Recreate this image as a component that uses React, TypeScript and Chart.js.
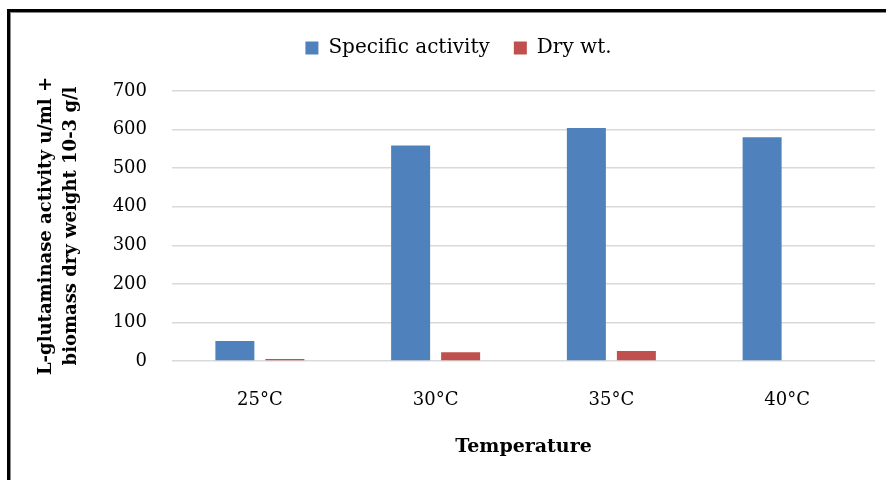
import React, { useEffect, useRef } from "react";
import { Chart, registerables } from "chart.js";

Chart.register(...registerables);

const categories = ["25°C", "30°C", "35°C", "40°C"];
const specificActivity = [52, 559, 604, 580];
const dryWeight = [5, 23, 26, 0];
const yTicks = [0, 100, 200, 300, 400, 500, 600, 700];

const FONT = "'DejaVu Serif', 'Liberation Serif', serif";

const legendMargin = {
  id: "legendMargin",
  beforeInit(chart: any) {
    const orig = chart.legend.fit;
    chart.legend.fit = function () {
      orig.bind(chart.legend)();
      this.height += 23;
    };
  },
  afterLayout(chart: any) {
    chart.legend.left += 15;
    chart.legend.right += 15;
  },
};

export default function App() {
  const ref = useRef<HTMLCanvasElement | null>(null);

  useEffect(() => {
    document.body.style.margin = "0";
    const ctx = ref.current!.getContext("2d")!;
    const chart = new Chart(ctx, {
      type: "bar",
      plugins: [legendMargin],
      data: {
        labels: categories,
        datasets: [
          {
            label: "Specific activity",
            data: specificActivity,
            backgroundColor: "#4F81BD",
            categoryPercentage: 0.569,
            barPercentage: 0.78,
          },
          {
            label: "Dry wt.",
            data: dryWeight,
            backgroundColor: "#C0504D",
            categoryPercentage: 0.569,
            barPercentage: 0.78,
          },
        ],
      },
      options: {
        animation: false,
        responsive: false,
        maintainAspectRatio: false,
        layout: { padding: { left: 12, right: 11, top: 14, bottom: 10 } },
        plugins: {
          tooltip: { enabled: false },
          legend: {
            position: "top",
            labels: {
              font: { family: FONT, size: 20 },
              color: "#000",
              boxWidth: 13,
              boxHeight: 13,
              padding: 24,
            },
          },
        },
        scales: {
          x: {
            afterFit: (axis: any) => {
              axis.height = 109;
            },
            grid: { display: false, drawTicks: false },
            border: { display: false },
            ticks: {
              font: { family: FONT, size: 18 },
              color: "#000",
              padding: 29,
            },
            title: {
              display: true,
              text: "Temperature",
              font: { family: FONT, size: 19, weight: "bold" },
              color: "#000",
              padding: { top: 0, bottom: 12 },
            },
          },
          y: {
            min: 0,
            max: 700,
            afterBuildTicks: (axis: any) => {
              axis.ticks = yTicks.map((v) => ({ value: v }));
            },
            afterFit: (axis: any) => {
              axis.width = 160;
            },
            grid: { color: "#D9D9D9", lineWidth: 1.5, drawTicks: false },
            border: { display: false },
            ticks: {
              font: { family: FONT, size: 18 },
              color: "#000",
              padding: 25,
            },
            title: {
              display: true,
              text: ["L-glutaminase activity u/ml +", "biomass dry weight 10-3 g/l"],
              font: { family: FONT, size: 18, weight: "bold", lineHeight: 1.4 },
              color: "#000",
              padding: { top: 22, bottom: 0 },
            },
          },
        },
      },
    });
    return () => chart.destroy();
  }, []);

  return (
    <div style={{ position: "relative", width: 886, height: 480, background: "#fff", overflow: "hidden" }}>
      <canvas ref={ref} width={886} height={480} style={{ position: "absolute", left: 0, top: 0 }} />
      <div
        style={{
          position: "absolute",
          left: 7,
          top: 9,
          width: 920,
          height: 520,
          border: "3px solid #000",
          boxShadow: "inset 1px 1px 0 0 #888",
          boxSizing: "border-box",
          pointerEvents: "none",
        }}
      />
    </div>
  );
}
